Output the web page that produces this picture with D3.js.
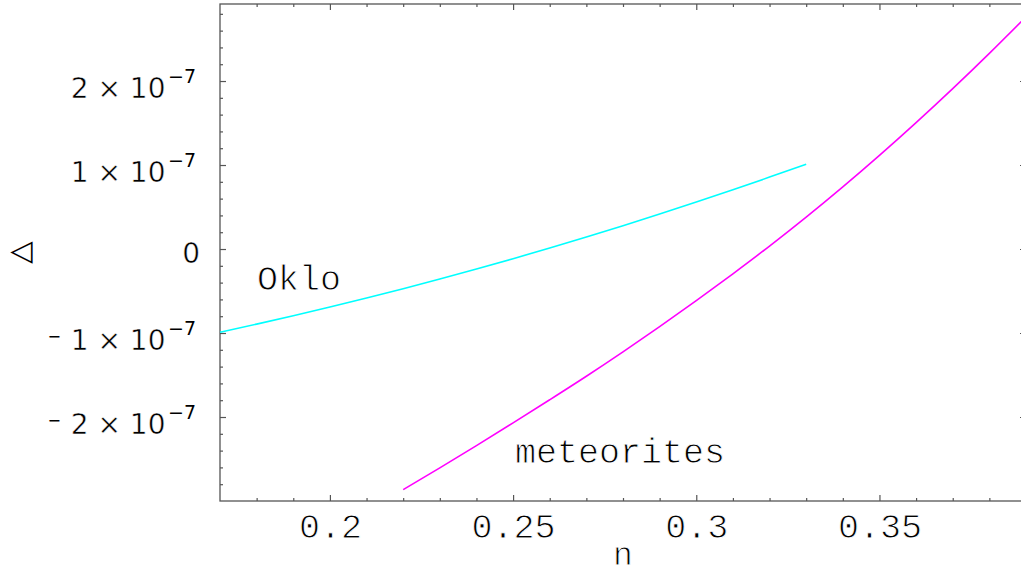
<!DOCTYPE html>
<html><head><meta charset="utf-8">
<script src="https://cdn.jsdelivr.net/npm/d3@7"></script>
<style>body{margin:0;background:#fff}svg{display:block}</style>
</head><body><svg id="c" width="1021" height="575"></svg>
<script>
// Oklo curve (n, Delta)
const okloN = [0.17,0.18,0.19,0.20,0.21,0.22,0.23,0.24,0.25,0.26,0.27,0.28,0.29,0.30,0.31,0.32,0.33];
const okloD = [-0.99e-7,-0.894e-7,-0.795e-7,-0.691e-7,-0.584e-7,-0.472e-7,-0.357e-7,-0.238e-7,-0.115e-7,0.012e-7,0.143e-7,0.278e-7,0.416e-7,0.559e-7,0.705e-7,0.856e-7,1.01e-7];
// meteorites curve
const metN = [0.22,0.23,0.24,0.25,0.26,0.27,0.28,0.29,0.30,0.31,0.32,0.33,0.34,0.35,0.36,0.37,0.38,0.39];
const metD = [-2.865e-7,-2.605e-7,-2.34e-7,-2.07e-7,-1.795e-7,-1.515e-7,-1.225e-7,-0.925e-7,-0.615e-7,-0.295e-7,0.035e-7,0.38e-7,0.74e-7,1.115e-7,1.505e-7,1.91e-7,2.33e-7,2.765e-7];

const xMajor = [0.2,0.25,0.3,0.35];
const xLabels = ["0.2","0.25","0.3","0.35"];
const xMinor = [0.18,0.19,0.21,0.22,0.23,0.24,0.26,0.27,0.28,0.29,0.31,0.32,0.33,0.34,0.36,0.37,0.38];
const yMajor = [-2e-7,-1e-7,0,1e-7,2e-7];
const yMantissa = ["-2","-1","0","1","2"];
const yExponent = "\u22127";

const L = 220, R = 1026, T = 4, B = 501;
const x = d3.scaleLinear().domain([0.17,0.39]).range([L,R]);
const y = d3.scaleLinear().domain([-3e-7,2.917e-7]).range([B,T]);
const yMinor = d3.range(-14,15).map(k=>k*0.2e-7).filter(v=>!yMajor.some(m=>Math.abs(m-v)<1e-12));

const svg = d3.select("#c");
const axisColor = "#555";
const mono = "'Liberation Mono', 'DejaVu Sans Mono', monospace";
const sans = "'DejaVu Sans', sans-serif";

function thin(sel){ return sel.attr("stroke","#fff").attr("stroke-width",0.9); }
function thinS(sel){ return sel.attr("stroke","#fff").attr("stroke-width",0.5); }

function styleAxis(g){
  g.select(".domain").remove();
  g.selectAll("line").attr("stroke",axisColor).attr("stroke-width",1.2);
}
// bottom
svg.append("g").attr("transform",`translate(0,${B})`).call(d3.axisBottom(x).tickValues(xMinor).tickSize(-3).tickFormat("")).call(styleAxis);
const bx = svg.append("g").attr("transform",`translate(0,${B})`).call(d3.axisBottom(x).tickValues(xMajor).tickSize(-6).tickFormat((d,i)=>xLabels[i])).call(styleAxis);
bx.selectAll("text").attr("y",37).attr("dy",null).attr("fill","#000").style("font-family",mono).style("font-size","35px").call(thin);
// top
svg.append("g").attr("transform",`translate(0,${T})`).call(d3.axisTop(x).tickValues(xMinor).tickSize(-3).tickFormat("")).call(styleAxis);
svg.append("g").attr("transform",`translate(0,${T})`).call(d3.axisTop(x).tickValues(xMajor).tickSize(-6).tickFormat("")).call(styleAxis);
// left
svg.append("g").attr("transform",`translate(${L},0)`).call(d3.axisLeft(y).tickValues(yMinor).tickSize(-3).tickFormat("")).call(styleAxis);
const ly = svg.append("g").attr("transform",`translate(${L},0)`).call(d3.axisLeft(y).tickValues(yMajor).tickSize(-6).tickFormat("")).call(styleAxis);
// right
svg.append("g").attr("transform",`translate(${R},0)`).call(d3.axisRight(y).tickValues(yMinor).tickSize(-3).tickFormat("")).call(styleAxis);
svg.append("g").attr("transform",`translate(${R},0)`).call(d3.axisRight(y).tickValues(yMajor).tickSize(-6).tickFormat("")).call(styleAxis);

// y labels
ly.selectAll(".tick").each(function(d,i){
  const g = d3.select(this);
  const m = yMantissa[i];
  if (m === "0") {
    g.append("text").attr("x",200-L).attr("y",13).attr("text-anchor","end")
      .attr("fill","#000").style("font-family",sans).style("font-size","28px").call(thinS).text("0");
    return;
  }
  const neg = m.startsWith("-");
  const digit = neg ? m.slice(1) : m;
  g.append("text").attr("x",165.5-L).attr("y",16).attr("text-anchor","end")
    .attr("fill","#000").style("font-family",sans).style("font-size","28px").call(thinS).text(digit+" \u00d7 10");
  g.append("text").attr("x",168-L).attr("y",1).attr("text-anchor","start")
    .attr("fill","#000").style("font-family",sans).style("font-size","19px").text(yExponent);
  if (neg) {
    g.append("text").attr("x",61-L).attr("y",16).attr("text-anchor","end")
      .attr("fill","#000").style("font-family",sans).style("font-size","16px").attr("dy","-0.5em").text("\u2212");
  }
});

// frame
svg.append("rect").attr("x",L).attr("y",T).attr("width",R-L).attr("height",B-T)
  .attr("fill","none").attr("stroke",axisColor).attr("stroke-width",1.3);

// curves
const line = d3.line().x(d=>x(d[0])).y(d=>y(d[1])).curve(d3.curveMonotoneX);
svg.append("path").datum(okloN.map((n,i)=>[n,okloD[i]])).attr("d",line)
  .attr("fill","none").attr("stroke","#00ffff").attr("stroke-width",1.6);
svg.append("path").datum(metN.map((n,i)=>[n,metD[i]])).attr("d",line)
  .attr("fill","none").attr("stroke","#ff00ff").attr("stroke-width",1.6);

// annotations
svg.append("text").attr("x",257).attr("y",290).attr("fill","#000").style("font-family",mono).style("font-size","35px").call(thin).text("Oklo");
svg.append("text").attr("x",515).attr("y",463).attr("fill","#000").style("font-family",mono).style("font-size","35px").call(thin).text("meteorites");
// axis titles
svg.append("text").attr("x",623).attr("y",565).attr("text-anchor","middle").attr("fill","#000").style("font-family",mono).style("font-size","33px").call(thin).text("n");
svg.append("text").attr("transform","translate(29,252.5) rotate(-90)").attr("text-anchor","middle").attr("fill","#000").style("font-family",sans).style("font-size","29px").text("\u25b3");
</script></body></html>
